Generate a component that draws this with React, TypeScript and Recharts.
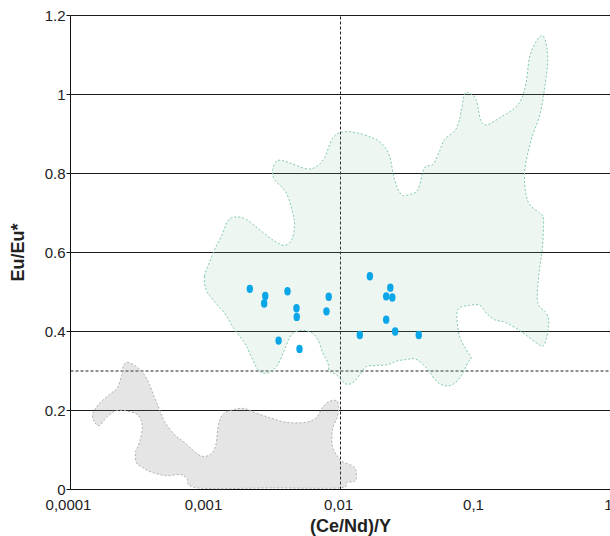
import React from 'react';
import { ScatterChart, Scatter, XAxis, YAxis, CartesianGrid, ReferenceLine } from 'recharts';

// (Ce/Nd)/Y vs Eu/Eu*
const xTicks = [0.0001, 0.001, 0.01, 0.1, 1];
const yTicks = [0, 0.2, 0.4, 0.6, 0.8, 1, 1.2];

const samples = [
  { x: 0.00213, y: 0.508 }, { x: 0.00277, y: 0.49 }, { x: 0.00272, y: 0.471 },
  { x: 0.00405, y: 0.502 }, { x: 0.00472, y: 0.459 }, { x: 0.00474, y: 0.437 },
  { x: 0.00818, y: 0.488 }, { x: 0.00787, y: 0.451 }, { x: 0.00348, y: 0.377 },
  { x: 0.00497, y: 0.356 }, { x: 0.0165, y: 0.54 }, { x: 0.0234, y: 0.511 },
  { x: 0.0218, y: 0.489 }, { x: 0.0242, y: 0.486 }, { x: 0.0218, y: 0.43 },
  { x: 0.0254, y: 0.4 }, { x: 0.0139, y: 0.391 }, { x: 0.038, y: 0.391 },
];

// outline of the green field
const greenX = [
  0.000983, 0.00107, 0.00117, 0.00131, 0.00146, 0.00164, 0.002, 0.00259, 0.00324, 0.00385,
  0.00436, 0.00456, 0.00443, 0.00396, 0.00324, 0.00315, 0.00343, 0.00419, 0.00557, 0.00661,
  0.00761, 0.00877, 0.0104, 0.0131, 0.0174, 0.0206, 0.0231, 0.0251, 0.0282, 0.0324,
  0.0374, 0.0419, 0.0483, 0.0541, 0.0589, 0.0699, 0.0761, 0.0829, 0.0903, 0.101,
  0.11, 0.123, 0.151, 0.189, 0.218, 0.237, 0.251, 0.274, 0.307, 0.33,
  0.343, 0.324, 0.298, 0.259, 0.231, 0.244, 0.298, 0.319, 0.312, 0.294,
  0.289, 0.334, 0.349, 0.334, 0.315, 0.282, 0.224, 0.169, 0.138, 0.12,
  0.107, 0.0903, 0.0761, 0.0727, 0.0761, 0.0853, 0.0929, 0.0877, 0.0783, 0.0679,
  0.0589, 0.0512, 0.0456, 0.0396, 0.0353, 0.0307, 0.0259, 0.0224, 0.0184, 0.0155,
  0.0142, 0.0127, 0.0113, 0.0104, 0.00929, 0.00829, 0.00805, 0.00739, 0.00679, 0.00607,
  0.00526, 0.00456, 0.00419, 0.00385, 0.00343, 0.00307, 0.00274, 0.00244, 0.00212, 0.00195,
  0.00164, 0.00138, 0.00113, 0.00101,
];
const greenY = [
  0.54, 0.575, 0.608, 0.641, 0.679, 0.69, 0.684, 0.654, 0.629, 0.618,
  0.633, 0.667, 0.7, 0.751, 0.785, 0.81, 0.833, 0.827, 0.812, 0.817,
  0.84, 0.89, 0.905, 0.903, 0.89, 0.873, 0.844, 0.785, 0.747, 0.747,
  0.759, 0.814, 0.823, 0.856, 0.886, 0.907, 0.937, 1.0, 1.003, 0.987,
  0.932, 0.924, 0.941, 0.962, 0.987, 1.03, 1.093, 1.127, 1.149, 1.135,
  1.089, 1.013, 0.945, 0.886, 0.802, 0.73, 0.7, 0.684, 0.608, 0.54,
  0.473, 0.447, 0.422, 0.38, 0.363, 0.371, 0.397, 0.422, 0.43, 0.447,
  0.467, 0.466, 0.46, 0.439, 0.388, 0.354, 0.334, 0.321, 0.287, 0.266,
  0.263, 0.274, 0.299, 0.321, 0.331, 0.329, 0.325, 0.316, 0.314, 0.311,
  0.295, 0.274, 0.266, 0.274, 0.291, 0.299, 0.321, 0.346, 0.38, 0.397,
  0.403, 0.398, 0.384, 0.354, 0.316, 0.299, 0.294, 0.304, 0.346, 0.371,
  0.405, 0.447, 0.481, 0.506,
];

// outline of the grey field
const greyX = [
  0.000264, 0.000308, 0.000347, 0.000385, 0.000419, 0.000456, 0.000497, 0.000589, 0.000699, 0.000829,
  0.00095, 0.00109, 0.00119, 0.00125, 0.00136, 0.00164, 0.00195, 0.00231, 0.00298, 0.00398,
  0.0055, 0.00664, 0.00736, 0.00829, 0.00934, 0.00967, 0.0095, 0.00872, 0.00872, 0.0095,
  0.0103, 0.0127, 0.0131, 0.0127, 0.0111, 0.00983, 0.00324, 0.000872, 0.000723, 0.000642,
  0.000514, 0.000405, 0.000341, 0.000308, 0.000303, 0.000324, 0.000341, 0.000319, 0.000274, 0.000219,
  0.000185, 0.000164, 0.000151, 0.000146, 0.000161, 0.000195, 0.000223, 0.000239, 0.000247,
];
const greyY = [
  0.322, 0.311, 0.294, 0.266, 0.233, 0.203, 0.172, 0.139, 0.119, 0.096,
  0.084, 0.089, 0.111, 0.165, 0.192, 0.203, 0.205, 0.195, 0.182, 0.17,
  0.17, 0.182, 0.208, 0.223, 0.225, 0.21, 0.185, 0.152, 0.109, 0.084,
  0.071, 0.056, 0.033, 0.02, 0.018, 0.004, 0.004, 0.004, 0.03, 0.038,
  0.035, 0.043, 0.056, 0.068, 0.094, 0.119, 0.159, 0.187, 0.197, 0.2,
  0.182, 0.162, 0.17, 0.19, 0.215, 0.241, 0.258, 0.289, 0.314,
];

const greenField = greenX.map((x, i) => ({ x, y: greenY[i] }));
const greyField = greyX.map((x, i) => ({ x, y: greyY[i] }));

const font = '"Liberation Sans", Arial, sans-serif';

// closed smooth outline through the scaled points
function smoothClosed(pts: { x: number; y: number }[]) {
  const n = pts.length;
  let d = `M${pts[0].x},${pts[0].y}`;
  for (let i = 0; i < n; i++) {
    const p0 = pts[(i - 1 + n) % n];
    const p1 = pts[i];
    const p2 = pts[(i + 1) % n];
    const p3 = pts[(i + 2) % n];
    const c1x = p1.x + (p2.x - p0.x) / 6;
    const c1y = p1.y + (p2.y - p0.y) / 6;
    const c2x = p2.x - (p3.x - p1.x) / 6;
    const c2y = p2.y - (p3.y - p1.y) / 6;
    d += ` C${c1x},${c1y} ${c2x},${c2y} ${p2.x},${p2.y}`;
  }
  return d + ' Z';
}

const fieldLine = (fill: string, stroke: string) => (props: any) => (
  <path
    d={smoothClosed(props.points)}
    fill={fill}
    stroke={stroke}
    strokeWidth={1}
    strokeDasharray="2 2"
  />
);

const Dot = (props: any) => (
  <ellipse cx={props.cx} cy={props.cy} rx={3.2} ry={4.2} fill="#0aa6e8" />
);

const formatX = (v: number) => String(v).replace('.', ',');

const App: React.FC = () => {
  return (
    <div style={{ position: 'absolute', left: 0, top: 0, width: 610, height: 536, overflow: 'hidden', background: '#fff' }}>
      <ScatterChart width={640} height={536} margin={{ top: 15.5, right: 29.5, bottom: 0, left: 0 }}>
        <CartesianGrid vertical={false} stroke="#1a1a1a" />
        <XAxis
          type="number"
          dataKey="x"
          scale="log"
          domain={[0.0001, 1]}
          ticks={xTicks}
          tickFormatter={formatX}
          allowDataOverflow
          height={46.5}
          stroke="#111"
          tickLine={false}
          tickSize={4}
          tickMargin={6}
          tick={{ fill: '#222', fontSize: 15, fontFamily: font, dx: -2 }}
          label={{
            value: '(Ce/Nd)/Y',
            position: 'insideBottom',
            offset: 4,
            dx: 10,
            style: { fontSize: 18, fontWeight: 'bold', fontFamily: font, fill: '#222' },
          }}
        />
        <YAxis
          type="number"
          dataKey="y"
          domain={[0, 1.2]}
          ticks={yTicks}
          width={70.5}
          stroke="#111"
          tickSize={4}
          tickMargin={1}
          tick={{ fill: '#222', fontSize: 15, fontFamily: font }}
          label={{
            value: 'Eu/Eu*',
            angle: -90,
            position: 'insideLeft',
            offset: 18,
            style: { textAnchor: 'middle', fontSize: 18, fontWeight: 'bold', fontFamily: font, fill: '#222' },
          }}
        />
        <Scatter
          data={greenField}
          isAnimationActive={false}
          line={fieldLine('rgba(142,195,162,0.15)', '#7fcaa8')}
          lineType="joint"
          shape={() => <g />}
        />
        <Scatter
          data={greyField}
          isAnimationActive={false}
          line={fieldLine('rgba(125,125,128,0.2)', '#aeaeae')}
          lineType="joint"
          shape={() => <g />}
        />
        <ReferenceLine y={0.3} stroke="#222" strokeDasharray="3 2" />
        <ReferenceLine x={0.01} stroke="#222" strokeDasharray="3 2" />
        <Scatter data={samples} isAnimationActive={false} shape={Dot} />
      </ScatterChart>
    </div>
  );
};

export default App;
